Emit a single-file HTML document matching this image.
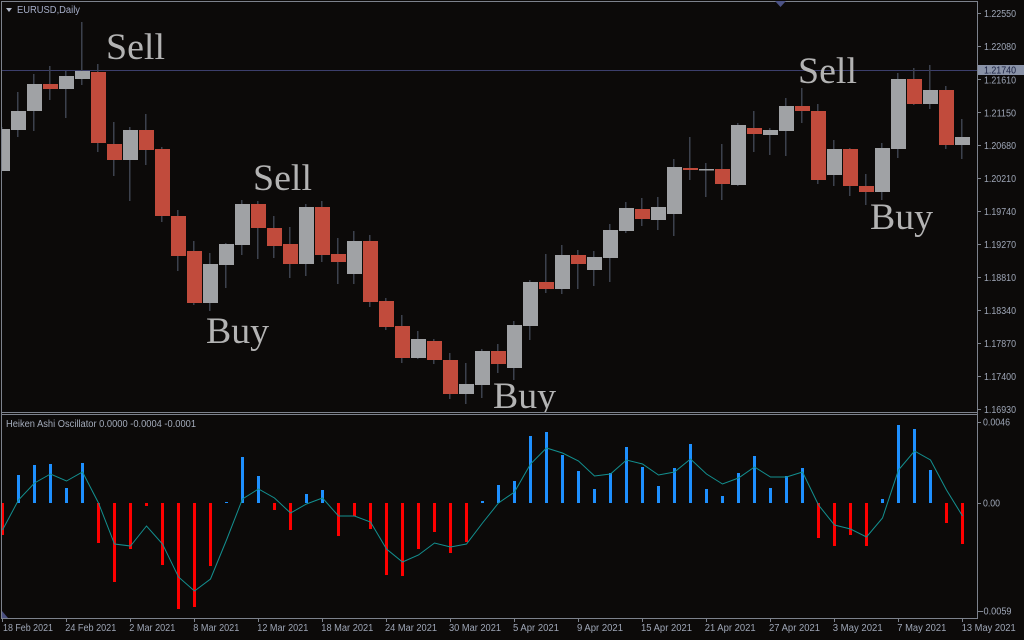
<!DOCTYPE html>
<html><head><meta charset="utf-8"><style>
html,body{margin:0;padding:0;background:#0c0a09;}
svg{display:block;}
text{font-family:"Liberation Sans",sans-serif;}
</style></head><body>
<svg width="1024" height="640" viewBox="0 0 1024 640" xmlns="http://www.w3.org/2000/svg">
<rect x="0" y="0" width="1024" height="640" fill="#0c0a09"/>
<!-- horizontal price line -->
<line x1="2" y1="70.5" x2="977" y2="70.5" stroke="#3c3f6c" stroke-width="1"/>
<!-- main chart candles -->
<g clip-path="url(#mainclip)">
<defs><clipPath id="mainclip"><rect x="2" y="2" width="975" height="410"/></clipPath></defs>
<g fill="#3c414d">
<rect x="1" y="127" width="1.5" height="44"/>
<rect x="17" y="92" width="1.5" height="45"/>
<rect x="33" y="74" width="1.5" height="57"/>
<rect x="49" y="66" width="1.5" height="34"/>
<rect x="65" y="71" width="1.5" height="47"/>
<rect x="81" y="22" width="1.5" height="63"/>
<rect x="97" y="64" width="1.5" height="88"/>
<rect x="113" y="122" width="1.5" height="54"/>
<rect x="129" y="127" width="1.5" height="74"/>
<rect x="145" y="114" width="1.5" height="51"/>
<rect x="161" y="147" width="1.5" height="75"/>
<rect x="177" y="210" width="1.5" height="61"/>
<rect x="193" y="241" width="1.5" height="64"/>
<rect x="209" y="253" width="1.5" height="58"/>
<rect x="225" y="243" width="1.5" height="45"/>
<rect x="241" y="200" width="1.5" height="55"/>
<rect x="257" y="201" width="1.5" height="58"/>
<rect x="273" y="216" width="1.5" height="42"/>
<rect x="289" y="227" width="1.5" height="51"/>
<rect x="305" y="204" width="1.5" height="72"/>
<rect x="321" y="201" width="1.5" height="61"/>
<rect x="337" y="238" width="1.5" height="46"/>
<rect x="353" y="231" width="1.5" height="53"/>
<rect x="369" y="235" width="1.5" height="72"/>
<rect x="385" y="298" width="1.5" height="32"/>
<rect x="401" y="315" width="1.5" height="48"/>
<rect x="417" y="331" width="1.5" height="28"/>
<rect x="433" y="339" width="1.5" height="25"/>
<rect x="449" y="353" width="1.5" height="46"/>
<rect x="465" y="363" width="1.5" height="41"/>
<rect x="481" y="349" width="1.5" height="49"/>
<rect x="497" y="344" width="1.5" height="29"/>
<rect x="513" y="321" width="1.5" height="59"/>
<rect x="529" y="280" width="1.5" height="60"/>
<rect x="545" y="254" width="1.5" height="39"/>
<rect x="561" y="245" width="1.5" height="49"/>
<rect x="577" y="250" width="1.5" height="39"/>
<rect x="593" y="251" width="1.5" height="35"/>
<rect x="609" y="224" width="1.5" height="58"/>
<rect x="625" y="202" width="1.5" height="31"/>
<rect x="641" y="198" width="1.5" height="28"/>
<rect x="657" y="197" width="1.5" height="33"/>
<rect x="673" y="159" width="1.5" height="77"/>
<rect x="689" y="137" width="1.5" height="43"/>
<rect x="705" y="163" width="1.5" height="34"/>
<rect x="721" y="144" width="1.5" height="56"/>
<rect x="737" y="123" width="1.5" height="63"/>
<rect x="753" y="111" width="1.5" height="41"/>
<rect x="769" y="128" width="1.5" height="27"/>
<rect x="785" y="98" width="1.5" height="58"/>
<rect x="801" y="88" width="1.5" height="35"/>
<rect x="817" y="104" width="1.5" height="80"/>
<rect x="833" y="140" width="1.5" height="46"/>
<rect x="849" y="148" width="1.5" height="48"/>
<rect x="865" y="174" width="1.5" height="31"/>
<rect x="881" y="143" width="1.5" height="57"/>
<rect x="897" y="73" width="1.5" height="85"/>
<rect x="913" y="68" width="1.5" height="37"/>
<rect x="929" y="65" width="1.5" height="44"/>
<rect x="945" y="86" width="1.5" height="63"/>
<rect x="961" y="119" width="1.5" height="40"/>
</g>
<g fill="#a0a2a5">
<rect x="-5" y="129" width="15" height="42"/>
<rect x="11" y="111" width="15" height="19"/>
<rect x="27" y="84" width="15" height="27"/>
<rect x="59" y="76" width="15" height="13"/>
<rect x="75" y="71" width="15" height="8"/>
<rect x="123" y="130" width="15" height="30"/>
<rect x="203" y="264" width="15" height="39"/>
<rect x="219" y="244" width="15" height="21"/>
<rect x="235" y="204" width="15" height="41"/>
<rect x="299" y="207" width="15" height="57"/>
<rect x="347" y="241" width="15" height="33"/>
<rect x="411" y="339" width="15" height="19"/>
<rect x="459" y="384" width="15" height="10"/>
<rect x="475" y="351" width="15" height="34"/>
<rect x="507" y="325" width="15" height="43"/>
<rect x="523" y="282" width="15" height="44"/>
<rect x="555" y="255" width="15" height="34"/>
<rect x="587" y="257" width="15" height="13"/>
<rect x="603" y="230" width="15" height="28"/>
<rect x="619" y="208" width="15" height="23"/>
<rect x="651" y="207" width="15" height="13"/>
<rect x="667" y="167" width="15" height="47"/>
<rect x="699" y="169" width="15" height="1.5"/>
<rect x="731" y="125" width="15" height="60"/>
<rect x="763" y="130" width="15" height="5"/>
<rect x="779" y="106" width="15" height="25"/>
<rect x="827" y="149" width="15" height="26"/>
<rect x="875" y="148" width="15" height="44"/>
<rect x="891" y="79" width="15" height="70"/>
<rect x="923" y="90" width="15" height="14"/>
<rect x="955" y="137" width="15" height="8"/>
</g>
<g fill="#c14b3c">
<rect x="43" y="84" width="15" height="5"/>
<rect x="91" y="72" width="15" height="71"/>
<rect x="107" y="144" width="15" height="16"/>
<rect x="139" y="130" width="15" height="20"/>
<rect x="155" y="149" width="15" height="67"/>
<rect x="171" y="216" width="15" height="40"/>
<rect x="187" y="251" width="15" height="52"/>
<rect x="251" y="204" width="15" height="24"/>
<rect x="267" y="228" width="15" height="18"/>
<rect x="283" y="244" width="15" height="20"/>
<rect x="315" y="207" width="15" height="48"/>
<rect x="331" y="254" width="15" height="8"/>
<rect x="363" y="241" width="15" height="61"/>
<rect x="379" y="301" width="15" height="26"/>
<rect x="395" y="326" width="15" height="32"/>
<rect x="427" y="341" width="15" height="19"/>
<rect x="443" y="360" width="15" height="34"/>
<rect x="491" y="351" width="15" height="13"/>
<rect x="539" y="282" width="15" height="7"/>
<rect x="571" y="255" width="15" height="9"/>
<rect x="635" y="209" width="15" height="10"/>
<rect x="683" y="168" width="15" height="2"/>
<rect x="715" y="169" width="15" height="15"/>
<rect x="747" y="128" width="15" height="6"/>
<rect x="795" y="106" width="15" height="5"/>
<rect x="811" y="111" width="15" height="69"/>
<rect x="843" y="149" width="15" height="37"/>
<rect x="859" y="186" width="15" height="6"/>
<rect x="907" y="79" width="15" height="25"/>
<rect x="939" y="90" width="15" height="55"/>
</g>
<!-- Sell / Buy labels -->
<g fill="#b3b3b3" style="font-family:'Liberation Serif',serif;font-size:37px;">
<text x="106" y="59" textLength="59" lengthAdjust="spacingAndGlyphs" style="font-family:'Liberation Serif',serif">Sell</text>
<text x="253" y="190" textLength="59" lengthAdjust="spacingAndGlyphs" style="font-family:'Liberation Serif',serif">Sell</text>
<text x="798" y="83" textLength="59" lengthAdjust="spacingAndGlyphs" style="font-family:'Liberation Serif',serif">Sell</text>
<text x="206" y="343" textLength="63" lengthAdjust="spacingAndGlyphs" style="font-family:'Liberation Serif',serif">Buy</text>
<text x="493" y="408" textLength="63" lengthAdjust="spacingAndGlyphs" style="font-family:'Liberation Serif',serif">Buy</text>
<text x="870" y="229" textLength="63" lengthAdjust="spacingAndGlyphs" style="font-family:'Liberation Serif',serif">Buy</text>
</g>
</g>

<!-- oscillator bars -->
<g fill="#1e90ff">
<rect x="17" y="475" width="3" height="28"/>
<rect x="33" y="465" width="3" height="38"/>
<rect x="49" y="464" width="3" height="39"/>
<rect x="65" y="488" width="3" height="15"/>
<rect x="81" y="463" width="3" height="40"/>
<rect x="225" y="502" width="3" height="1"/>
<rect x="241" y="457" width="3" height="46"/>
<rect x="257" y="476" width="3" height="27"/>
<rect x="305" y="494" width="3" height="9"/>
<rect x="321" y="490" width="3" height="13"/>
<rect x="481" y="501" width="3" height="2"/>
<rect x="497" y="485" width="3" height="18"/>
<rect x="513" y="481" width="3" height="22"/>
<rect x="529" y="436" width="3" height="67"/>
<rect x="545" y="432" width="3" height="71"/>
<rect x="561" y="455" width="3" height="48"/>
<rect x="577" y="471" width="3" height="32"/>
<rect x="593" y="489" width="3" height="14"/>
<rect x="609" y="473" width="3" height="30"/>
<rect x="625" y="447" width="3" height="56"/>
<rect x="641" y="467" width="3" height="36"/>
<rect x="657" y="486" width="3" height="17"/>
<rect x="673" y="468" width="3" height="35"/>
<rect x="689" y="444" width="3" height="59"/>
<rect x="705" y="489" width="3" height="14"/>
<rect x="721" y="496" width="3" height="7"/>
<rect x="737" y="473" width="3" height="30"/>
<rect x="753" y="456" width="3" height="47"/>
<rect x="769" y="488" width="3" height="15"/>
<rect x="785" y="476" width="3" height="27"/>
<rect x="801" y="468" width="3" height="35"/>
<rect x="881" y="499" width="3" height="4"/>
<rect x="897" y="425" width="3" height="78"/>
<rect x="913" y="429" width="3" height="74"/>
<rect x="929" y="470" width="3" height="33"/>
</g>
<g fill="#ff0000">
<rect x="1" y="503" width="3" height="32"/>
<rect x="97" y="503" width="3" height="40"/>
<rect x="113" y="503" width="3" height="79"/>
<rect x="129" y="503" width="3" height="46"/>
<rect x="145" y="503" width="3" height="3"/>
<rect x="161" y="503" width="3" height="62"/>
<rect x="177" y="503" width="3" height="106"/>
<rect x="193" y="503" width="3" height="104"/>
<rect x="209" y="503" width="3" height="63"/>
<rect x="273" y="503" width="3" height="7"/>
<rect x="289" y="503" width="3" height="27"/>
<rect x="337" y="503" width="3" height="33"/>
<rect x="353" y="503" width="3" height="13"/>
<rect x="369" y="503" width="3" height="26"/>
<rect x="385" y="503" width="3" height="72"/>
<rect x="401" y="503" width="3" height="73"/>
<rect x="417" y="503" width="3" height="46"/>
<rect x="433" y="503" width="3" height="29"/>
<rect x="449" y="503" width="3" height="50"/>
<rect x="465" y="503" width="3" height="39"/>
<rect x="817" y="503" width="3" height="35"/>
<rect x="833" y="503" width="3" height="43"/>
<rect x="849" y="503" width="3" height="32"/>
<rect x="865" y="503" width="3" height="43"/>
<rect x="945" y="503" width="3" height="20"/>
<rect x="961" y="503" width="3" height="41"/>
</g>
<polyline fill="none" stroke="#139090" stroke-width="1" points="2.5,530 18.5,500 34.5,483 50.5,474 66.5,481 82.5,472 98.5,503 114.5,544 130.5,546 146.5,526 162.5,544 178.5,577 194.5,591 210.5,579 226.5,540 242.5,499 258.5,489 274.5,498 290.5,513 306.5,504 322.5,498 338.5,516 354.5,516 370.5,522 386.5,549 402.5,562 418.5,555 434.5,543 450.5,547 466.5,544 482.5,523 498.5,503 514.5,492 530.5,464 546.5,448 562.5,453 578.5,461 594.5,476 610.5,474 626.5,460 642.5,464 658.5,475 674.5,472 690.5,459 706.5,474 722.5,484 738.5,478 754.5,467 770.5,477 786.5,477 802.5,472 818.5,505 834.5,525 850.5,529 866.5,537 882.5,518 898.5,470 914.5,451 930.5,460 946.5,490 962.5,516"/>

<!-- borders -->
<g stroke="#7d828c" stroke-width="1" fill="none">
<line x1="1" y1="1.5" x2="978" y2="1.5"/>
<line x1="1.5" y1="1" x2="1.5" y2="619"/>
<line x1="977.5" y1="1" x2="977.5" y2="619"/>
<line x1="1" y1="412.5" x2="978" y2="412.5"/>
<line x1="1" y1="414.5" x2="978" y2="414.5"/>
<line x1="1" y1="618.5" x2="978" y2="618.5"/>
</g>
<!-- top marker triangle -->
<polygon points="775,1 786,1 780.5,7" fill="#4b5285"/>
<!-- bottom-left corner triangle -->
<polygon points="2,611 2,618 8,618" fill="#4a4f80"/>
<!-- header -->
<polygon points="6,8 12,8 9,12" fill="#b0b8c8"/>
<text x="17" y="13" font-size="10" fill="#a6aec8" textLength="63" lengthAdjust="spacingAndGlyphs">EURUSD,Daily</text>
<text x="6" y="427" font-size="10" fill="#a3abba" textLength="190" lengthAdjust="spacingAndGlyphs">Heiken Ashi Oscillator 0.0000 -0.0004 -0.0001</text>

<!-- price axis ticks -->
<g stroke="#7d828c" stroke-width="1">
<line x1="978" y1="13.5" x2="981" y2="13.5"/>
<line x1="978" y1="46.5" x2="981" y2="46.5"/>
<line x1="978" y1="79.5" x2="981" y2="79.5"/>
<line x1="978" y1="112.5" x2="981" y2="112.5"/>
<line x1="978" y1="145.5" x2="981" y2="145.5"/>
<line x1="978" y1="178.5" x2="981" y2="178.5"/>
<line x1="978" y1="211.5" x2="981" y2="211.5"/>
<line x1="978" y1="244.5" x2="981" y2="244.5"/>
<line x1="978" y1="277.5" x2="981" y2="277.5"/>
<line x1="978" y1="310.5" x2="981" y2="310.5"/>
<line x1="978" y1="343.5" x2="981" y2="343.5"/>
<line x1="978" y1="376.5" x2="981" y2="376.5"/>
<line x1="978" y1="409.5" x2="981" y2="409.5"/>
<line x1="978" y1="422.5" x2="981" y2="422.5"/>
<line x1="978" y1="503.5" x2="981" y2="503.5"/>
<line x1="978" y1="611.5" x2="981" y2="611.5"/>
</g>
<g font-size="10" fill="#9ea6b6">
<text x="984" y="17" textLength="32" lengthAdjust="spacingAndGlyphs">1.22550</text>
<text x="984" y="50" textLength="32" lengthAdjust="spacingAndGlyphs">1.22080</text>
<text x="984" y="83.5" textLength="32" lengthAdjust="spacingAndGlyphs">1.21610</text>
<text x="984" y="116.5" textLength="32" lengthAdjust="spacingAndGlyphs">1.21150</text>
<text x="984" y="149" textLength="32" lengthAdjust="spacingAndGlyphs">1.20680</text>
<text x="984" y="182" textLength="32" lengthAdjust="spacingAndGlyphs">1.20210</text>
<text x="984" y="215" textLength="32" lengthAdjust="spacingAndGlyphs">1.19740</text>
<text x="984" y="248" textLength="32" lengthAdjust="spacingAndGlyphs">1.19270</text>
<text x="984" y="281" textLength="32" lengthAdjust="spacingAndGlyphs">1.18810</text>
<text x="984" y="314" textLength="32" lengthAdjust="spacingAndGlyphs">1.18340</text>
<text x="984" y="347" textLength="32" lengthAdjust="spacingAndGlyphs">1.17870</text>
<text x="984" y="380" textLength="32" lengthAdjust="spacingAndGlyphs">1.17400</text>
<text x="984" y="413" textLength="32" lengthAdjust="spacingAndGlyphs">1.16930</text>
<text x="983" y="425.5" textLength="27" lengthAdjust="spacingAndGlyphs">0.0046</text>
<text x="983" y="506.5" textLength="17" lengthAdjust="spacingAndGlyphs">0.00</text>
<text x="980.5" y="614.5" textLength="31" lengthAdjust="spacingAndGlyphs">-0.0059</text>
</g>
<!-- current price box -->
<rect x="978" y="65" width="46" height="10" fill="#8a93a8"/>
<text x="984" y="73.5" font-size="10" fill="#1a2040" textLength="32" lengthAdjust="spacingAndGlyphs">1.21740</text>

<!-- date axis ticks -->
<g stroke="#7d828c" stroke-width="1">
<line x1="2.5" y1="618" x2="2.5" y2="622"/>
<line x1="66.5" y1="618" x2="66.5" y2="622"/>
<line x1="130.5" y1="618" x2="130.5" y2="622"/>
<line x1="194.5" y1="618" x2="194.5" y2="622"/>
<line x1="258.5" y1="618" x2="258.5" y2="622"/>
<line x1="322.5" y1="618" x2="322.5" y2="622"/>
<line x1="386.5" y1="618" x2="386.5" y2="622"/>
<line x1="450.5" y1="618" x2="450.5" y2="622"/>
<line x1="514.5" y1="618" x2="514.5" y2="622"/>
<line x1="578.5" y1="618" x2="578.5" y2="622"/>
<line x1="642.5" y1="618" x2="642.5" y2="622"/>
<line x1="706.5" y1="618" x2="706.5" y2="622"/>
<line x1="770.5" y1="618" x2="770.5" y2="622"/>
<line x1="834.5" y1="618" x2="834.5" y2="622"/>
<line x1="898.5" y1="618" x2="898.5" y2="622"/>
<line x1="962.5" y1="618" x2="962.5" y2="622"/>
</g>
<g font-size="10" fill="#9ea6b6">
<text x="3" y="631" textLength="50" lengthAdjust="spacingAndGlyphs">18 Feb 2021</text>
<text x="65.3" y="631" textLength="51" lengthAdjust="spacingAndGlyphs">24 Feb 2021</text>
<text x="129.3" y="631" textLength="46" lengthAdjust="spacingAndGlyphs">2 Mar 2021</text>
<text x="193.3" y="631" textLength="46" lengthAdjust="spacingAndGlyphs">8 Mar 2021</text>
<text x="257.3" y="631" textLength="51" lengthAdjust="spacingAndGlyphs">12 Mar 2021</text>
<text x="321.3" y="631" textLength="52" lengthAdjust="spacingAndGlyphs">18 Mar 2021</text>
<text x="385" y="631" textLength="52" lengthAdjust="spacingAndGlyphs">24 Mar 2021</text>
<text x="449" y="631" textLength="52" lengthAdjust="spacingAndGlyphs">30 Mar 2021</text>
<text x="513" y="631" textLength="46" lengthAdjust="spacingAndGlyphs">5 Apr 2021</text>
<text x="577" y="631" textLength="46" lengthAdjust="spacingAndGlyphs">9 Apr 2021</text>
<text x="641" y="631" textLength="51" lengthAdjust="spacingAndGlyphs">15 Apr 2021</text>
<text x="704.7" y="631" textLength="51" lengthAdjust="spacingAndGlyphs">21 Apr 2021</text>
<text x="769" y="631" textLength="51" lengthAdjust="spacingAndGlyphs">27 Apr 2021</text>
<text x="832.7" y="631" textLength="50" lengthAdjust="spacingAndGlyphs">3 May 2021</text>
<text x="897.3" y="631" textLength="49" lengthAdjust="spacingAndGlyphs">7 May 2021</text>
<text x="961.7" y="631" textLength="54" lengthAdjust="spacingAndGlyphs">13 May 2021</text>
</g>
</svg>
</body></html>
